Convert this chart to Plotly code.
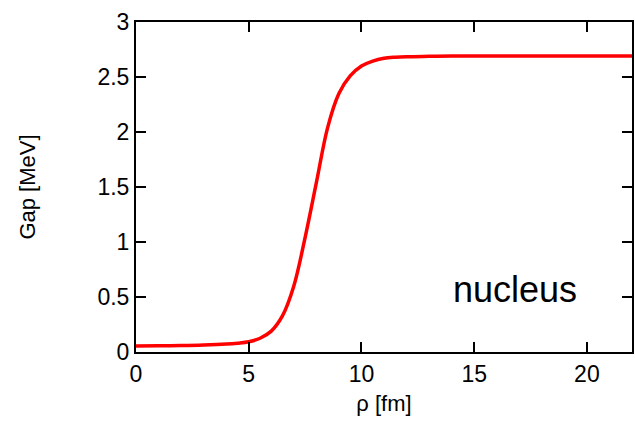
import plotly.graph_objects as go

rho = [0, 1, 2, 3, 4, 4.5, 5, 5.5, 6, 6.5, 7, 7.5, 8, 8.5, 9, 9.5, 10, 10.5, 11, 11.5, 12, 13, 14, 16, 18, 20, 22]
gap = [0.055, 0.056, 0.058, 0.063, 0.072, 0.08, 0.093, 0.125, 0.19, 0.33, 0.6, 1.04, 1.54, 2.04, 2.35, 2.51, 2.60,
       2.645, 2.67, 2.68, 2.685, 2.688, 2.69, 2.69, 2.69, 2.69, 2.69]

x_ticks = [0, 5, 10, 15, 20]
y_ticks = [0, 0.5, 1, 1.5, 2, 2.5, 3]
y_tick_labels = ["0", "0.5", "1", "1.5", "2", "2.5", "3"]

FONT = "Liberation Sans, Arial, sans-serif"

fig = go.Figure()
fig.add_trace(go.Scatter(x=rho, y=gap, mode="lines", line_shape="spline",
                         line=dict(color="#ff0000", width=3.5), showlegend=False))

axis_common = dict(showline=True, linecolor="black", linewidth=2, mirror="ticks",
                   ticks="inside", ticklen=10, tickwidth=2, tickcolor="black",
                   showgrid=False, zeroline=False,
                   tickfont=dict(family=FONT, size=23, color="black"))

fig.update_xaxes(range=[0, 22], tickvals=x_ticks, ticktext=[str(v) for v in x_ticks],
                 title=dict(text="ρ [fm]", font=dict(family=FONT, size=22, color="black"), standoff=10),
                 **axis_common)
fig.update_yaxes(range=[0, 3], tickvals=y_ticks, ticktext=y_tick_labels,
                 title=dict(text="Gap [MeV]", font=dict(family=FONT, size=22, color="black"), standoff=56),
                 **axis_common)

fig.add_annotation(x=16.8, y=0.57, xref="x", yref="y", text="nucleus", showarrow=False,
                   font=dict(family=FONT, size=36, color="black"), xanchor="center", yanchor="middle")

fig.update_layout(width=635, height=434, margin=dict(l=136, r=1, t=22, b=82),
                  plot_bgcolor="white", paper_bgcolor="white")

fig.write_html("out.html")
